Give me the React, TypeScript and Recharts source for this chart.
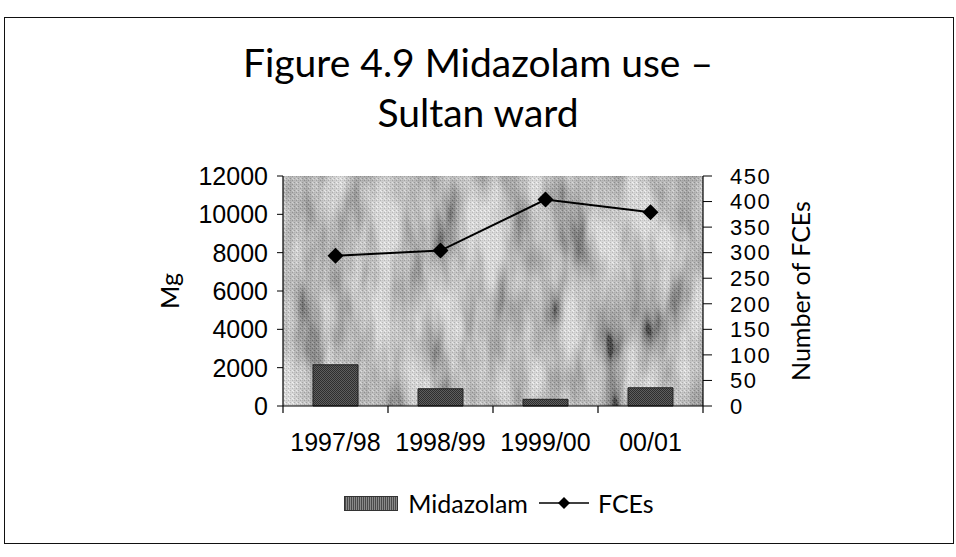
import { Bar, ComposedChart, Line, XAxis, YAxis, Customized } from "recharts";

const years = ["1997/98", "1998/99", "1999/00", "00/01"];
const midazolamMg = [2150, 900, 350, 950];
const fceCounts = [294, 304, 404, 379];
const mgTicks = [0, 2000, 4000, 6000, 8000, 10000, 12000];
const fceTicks = [0, 50, 100, 150, 200, 250, 300, 350, 400, 450];

const data = years.map((year, i) => ({ year, midazolam: midazolamMg[i], fces: fceCounts[i] }));

const W = 956;
const H = 557;
const PLOT_LEFT = 283;
const PLOT_RIGHT = 703;
const PLOT_TOP = 176;
const PLOT_BOTTOM = 406;
const BAND = (PLOT_RIGHT - PLOT_LEFT) / years.length;
const LEFT_AXIS_W = 226;
const RIGHT_AXIS_W = 196;
const X_AXIS_H = 50;

const tickFont = "'Liberation Sans', Arial, sans-serif";
const titleFont = "Lato, 'Open Sans', sans-serif";

function Diamond(props: any) {
  const { cx, cy } = props;
  if (cx == null || cy == null) return null;
  const r = 8;
  return <polygon points={`${cx},${cy - r} ${cx + r},${cy} ${cx},${cy + r} ${cx - r},${cy}`} fill="#000" />;
}

function YearTick(props: any) {
  const { x, y, payload, index } = props;
  return (
    <g>
      <line x1={x - BAND / 2} x2={x - BAND / 2} y1={y} y2={y + 7} stroke="#000" strokeWidth={1.2} />
      {index === years.length - 1 && (
        <line x1={x + BAND / 2} x2={x + BAND / 2} y1={y} y2={y + 7} stroke="#000" strokeWidth={1.2} />
      )}
      <text x={x} y={y + 27} dy="0.71em" textAnchor="middle" fill="#000" fontSize={25} fontFamily={tickFont}>
        {payload.value}
      </text>
    </g>
  );
}

// textured grey plot area (mottled + halftone grain like the scan)
function PlotBackground(props: any) {
  const off = props.offset ?? {};
  const left = off.left ?? PLOT_LEFT;
  const top = off.top ?? PLOT_TOP;
  const width = off.width ?? PLOT_RIGHT - PLOT_LEFT;
  const height = off.height ?? PLOT_BOTTOM - PLOT_TOP;
  return (
    <g>
      <rect x={left} y={top} width={width} height={height} fill="#9e9e9e" filter="url(#mottle)" />
      <rect x={left} y={top} width={width} height={height} fill="url(#dither)" opacity={0.45} />
    </g>
  );
}

function LegendBox() {
  return (
    <div style={{ position: "absolute", left: 21, top: 488, width: W, display: "flex", justifyContent: "center", alignItems: "center", fontFamily: titleFont, fontSize: 25, color: "#000" }}>
      <span style={{ display: "inline-block", width: 52, height: 13, marginRight: 10, background: "repeating-linear-gradient(90deg,#4a4a4a 0 1px,#8a8a8a 1px 2px)", border: "1px solid #333" }} />
      <span style={{ marginRight: 10 }}>Midazolam</span>
      <svg width={52} height={20} style={{ marginRight: 8 }}>
        <line x1={1} x2={51} y1={10} y2={10} stroke="#000" strokeWidth={1.5} />
        <polygon points="26,4 32,10 26,16 20,10" fill="#000" />
      </svg>
      <span>FCEs</span>
    </div>
  );
}

export default function App() {
  return (
    <div style={{ position: "absolute", left: 0, top: 0, width: W, height: H, background: "#fff" }}>
      <div style={{ position: "absolute", left: 4, top: 17, width: 950, height: 527, border: "1.5px solid #111", boxSizing: "border-box" }} />
      <div style={{ position: "absolute", left: 0, top: 37, width: W, textAlign: "center", fontFamily: titleFont, fontSize: 39, lineHeight: "50px", color: "#000" }}>
        Figure 4.9 Midazolam use –<br />Sultan ward
      </div>
      <div style={{ position: "absolute", left: 0, top: 0 }}>
        <ComposedChart
          width={W}
          height={H}
          data={data}
          margin={{ top: PLOT_TOP, left: PLOT_LEFT - LEFT_AXIS_W, right: W - PLOT_RIGHT - RIGHT_AXIS_W, bottom: H - PLOT_BOTTOM - X_AXIS_H }}
        >
          <defs>
            <filter id="mottle" x="0" y="0" width="1" height="1">
              <feTurbulence type="fractalNoise" baseFrequency="0.04 0.011" numOctaves={3} seed={11} result="noise" />
              <feColorMatrix
                in="noise"
                type="matrix"
                values="1.8 0 0 0 -0.3  1.8 0 0 0 -0.3  1.8 0 0 0 -0.3  0 0 0 0 1"
              />
            </filter>
            <pattern id="dither" width={4} height={4} patternUnits="userSpaceOnUse">
              <rect width={4} height={4} fill="#ababab" />
              <rect x={0} y={0} width={1} height={1} fill="#5e5e5e" />
              <rect x={2} y={2} width={1} height={1} fill="#5e5e5e" />
              <rect x={2} y={0} width={1} height={1} fill="#8a8a8a" />
              <rect x={0} y={2} width={1} height={1} fill="#e2e2e2" />
              <rect x={1} y={3} width={1} height={1} fill="#e2e2e2" />
            </pattern>
            <pattern id="barDither" width={2} height={2} patternUnits="userSpaceOnUse">
              <rect width={2} height={2} fill="#5e5e5e" />
              <rect x={0} y={0} width={1} height={1} fill="#2e2e2e" />
              <rect x={1} y={1} width={1} height={1} fill="#2e2e2e" />
            </pattern>
          </defs>
          <Customized component={PlotBackground} />
          <XAxis
            dataKey="year"
            height={X_AXIS_H}
            axisLine={{ stroke: "#000", strokeWidth: 1.2 }}
            tickLine={false}
            tickSize={0}
            tickMargin={0}
            interval={0}
            tick={<YearTick />}
          />
          <YAxis
            yAxisId="mg"
            width={LEFT_AXIS_W}
            domain={[0, 12000]}
            ticks={mgTicks}
            interval={0}
            axisLine={{ stroke: "#000", strokeWidth: 1.2 }}
            tickLine={{ stroke: "#000" }}
            tickSize={6}
            tickMargin={9}
            tick={{ fill: "#000", fontSize: 25, fontFamily: tickFont }}
            label={{ value: "Mg", angle: -90, position: "center", fill: "#000", fontSize: 25, fontFamily: titleFont }}
          />
          <YAxis
            yAxisId="fce"
            orientation="right"
            width={RIGHT_AXIS_W}
            domain={[0, 450]}
            ticks={fceTicks}
            interval={0}
            axisLine={{ stroke: "#000", strokeWidth: 1.2 }}
            tickLine={{ stroke: "#000" }}
            tickSize={9}
            tickMargin={18}
            tick={{ fill: "#000", fontSize: 22, letterSpacing: 1.5, fontFamily: tickFont }}
            label={{ value: "Number of FCEs", angle: -90, position: "center", fill: "#000", fontSize: 25, fontFamily: titleFont }}
          />
          <Bar
            yAxisId="mg"
            dataKey="midazolam"
            name="Midazolam"
            barSize={45}
            fill="url(#barDither)"
            stroke="#222"
            strokeWidth={1}
            isAnimationActive={false}
          />
          <Line
            yAxisId="fce"
            dataKey="fces"
            name="FCEs"
            type="linear"
            stroke="#000"
            strokeWidth={2}
            dot={<Diamond />}
            activeDot={false}
            isAnimationActive={false}
          />
        </ComposedChart>
      </div>
      <LegendBox />
    </div>
  );
}
